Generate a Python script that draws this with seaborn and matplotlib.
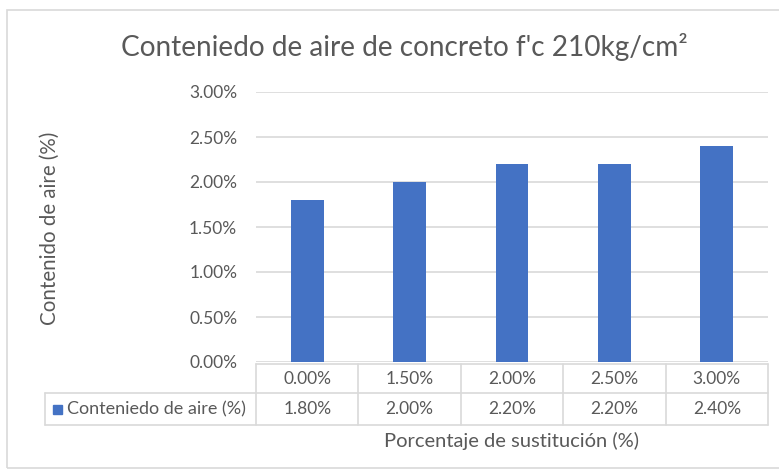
import matplotlib
matplotlib.use("Agg")
import matplotlib.pyplot as plt
from matplotlib.lines import Line2D
from matplotlib.patches import Rectangle
import seaborn as sns
import pandas as pd

# Data
categories = ["0.00%", "1.50%", "2.00%", "2.50%", "3.00%"]
air_content = [1.80, 2.00, 2.20, 2.20, 2.40]
series_name = "Conteniedo de aire (%)"
y_ticks = [0.0, 0.5, 1.0, 1.5, 2.0, 2.5, 3.0]

title = "Conteniedo de aire de concreto f'c 210kg/cm²"
x_label = "Porcentaje de sustitución (%)"
y_label = "Contenido de aire (%)"

sns.set_theme(style="white")
plt.rcParams["font.family"] = ["Lato", "DejaVu Sans"]

TEXT = "#595959"
GRID = "#d9d9d9"
BAR = "#4472C4"
NUM_FS = 12.5

W, H = 779, 471
fig = plt.figure(figsize=(W / 100, H / 100), dpi=100)

def fx(px):
    return px / W

def fy(py):
    return 1 - py / H

# chart border
fig.add_artist(Rectangle((fx(7), fy(468)), fx(790 - 7), fy(10) - fy(468),
                         transform=fig.transFigure, fill=False,
                         edgecolor=GRID, linewidth=1.2))

# plot area
left, right, top, bottom = 256, 768, 92, 362
ax = fig.add_axes([fx(left), fy(bottom), fx(right - left), fy(top) - fy(bottom)])

df = pd.DataFrame({"cat": categories, "val": air_content})
sns.barplot(data=df, x="cat", y="val", color=BAR, width=0.32, saturation=1,
            ax=ax, zorder=3, linewidth=0)

ax.set_ylim(0, 3.0)
ax.set_xlim(-0.5, len(categories) - 0.5)
ax.set_yticks(y_ticks)
ax.set_yticklabels([f"{v:.2f}%" for v in y_ticks], color=TEXT, fontsize=NUM_FS)
ax.yaxis.grid(True, color=GRID, linewidth=1.2, zorder=0)
ax.set_xticks([])
ax.set_xlabel("")
ax.set_ylabel("")
ax.tick_params(axis="y", length=0, pad=13.5)
for s in ax.spines.values():
    s.set_visible(False)

# data table below the plot area
row1_top, row1_bot, row2_bot = 364, 393, 425
col_w = (right - left) / len(categories)
col_edges = [left + i * col_w for i in range(len(categories) + 1)]
leg_left = 45

def hline(y, x0, x1):
    fig.add_artist(Line2D([fx(x0), fx(x1)], [fy(y), fy(y)], color=GRID,
                          linewidth=1.2, transform=fig.transFigure))

def vline(x, y0, y1):
    fig.add_artist(Line2D([fx(x), fx(x)], [fy(y0), fy(y1)], color=GRID,
                          linewidth=1.2, transform=fig.transFigure))

hline(row1_top, left, right)
hline(row1_bot, leg_left, right)
hline(row2_bot, leg_left, right)
vline(leg_left, row1_bot, row2_bot)
for x in col_edges:
    vline(x, row1_top, row2_bot)

for i, (c, v) in enumerate(zip(categories, air_content)):
    cx = (col_edges[i] + col_edges[i + 1]) / 2
    fig.text(fx(cx), fy((row1_top + row1_bot) / 2), c, ha="center",
             va="center", color=TEXT, fontsize=NUM_FS)
    fig.text(fx(cx), fy((row1_bot + row2_bot) / 2), f"{v:.2f}%",
             ha="center", va="center", color=TEXT, fontsize=NUM_FS)

# legend key inside the table
ymid = (row1_bot + row2_bot) / 2
fig.add_artist(Rectangle((fx(53), fy(ymid + 4.5)), fx(9), fy(ymid - 4.5) - fy(ymid + 4.5),
                         transform=fig.transFigure, color=BAR))
fig.text(fx(67), fy(ymid), series_name, ha="left", va="center",
         color=TEXT, fontsize=13)

# titles
fig.text(fx(404), fy(47), title, ha="center", va="center", color=TEXT,
         fontsize=20.2)
fig.text(fx(512), fy(441), x_label, ha="center", va="center", color=TEXT,
         fontsize=14.5)
fig.text(fx(50), fy(228), y_label, ha="center", va="center", color=TEXT,
         fontsize=14.8, rotation=90)

fig.savefig("out.png", dpi=100, facecolor="white")
